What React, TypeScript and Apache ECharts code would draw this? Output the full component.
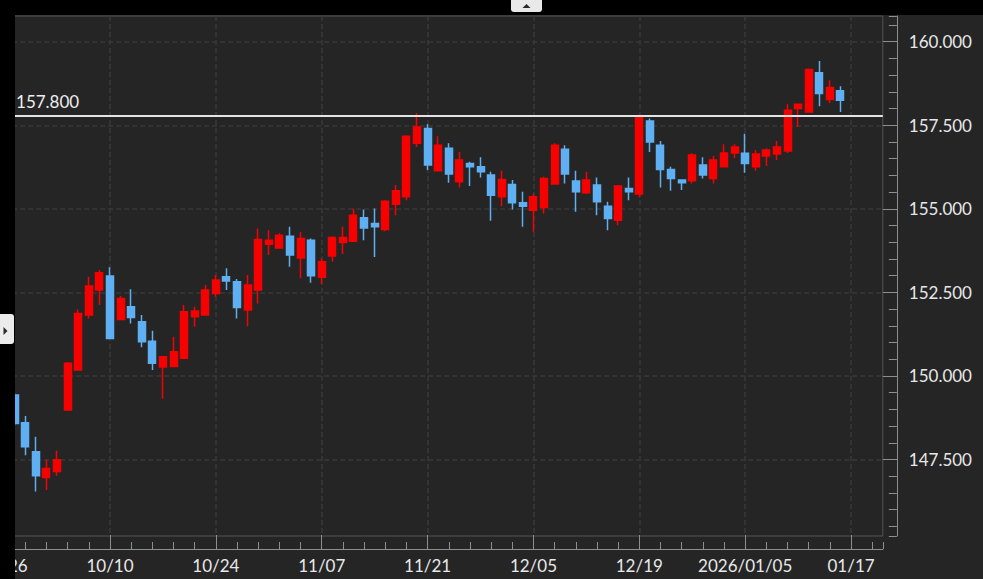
import React, { useEffect, useRef } from "react";
import * as echarts from "echarts";

// x-axis tick labels, one every `labelStep` trading days starting at index 0
const tickLabels = ["09/26", "10/10", "10/24", "11/07", "11/21", "12/05", "12/19", "2026/01/05", "01/17"];
const labelStep = 10;
// first candle's trading-day index (index 0 = 09/26)
const firstIndex = 1;

const opens = [
  149.43, 148.60, 147.73, 146.96, 147.14, 148.98, 150.18, 151.82, 152.57, 152.99,
  151.69, 152.07, 151.62, 151.04, 150.27, 150.28, 150.53, 151.77, 151.82, 152.47,
  152.97, 152.82, 151.97, 152.57, 153.94, 153.83, 154.18, 153.53, 154.06, 152.95,
  153.59, 153.99, 154.03, 154.73, 154.56, 154.38, 155.14, 155.36, 156.96, 157.40,
  156.14, 156.81, 155.81, 156.36, 156.26, 156.01, 155.36, 155.73, 155.18, 154.96,
  155.04, 155.74, 156.78, 155.83, 155.48, 155.71, 155.08, 154.66, 155.61, 155.44,
  157.63, 156.90, 156.18, 155.86, 155.84, 156.31, 155.91, 156.26, 156.67, 156.66,
  156.26, 156.58, 156.64, 156.73, 158.00, 157.90, 159.07, 158.27, 158.53,
];
const closes = [
  148.58, 147.88, 147.01, 147.23, 147.49, 150.38, 151.87, 152.69, 153.09, 151.12,
  152.32, 151.75, 151.02, 150.38, 150.57, 150.72, 151.92, 151.94, 152.57, 152.87,
  152.84, 152.05, 152.72, 154.08, 154.06, 154.21, 153.62, 154.11, 153.00, 153.42,
  154.14, 154.14, 154.81, 154.43, 154.46, 155.23, 155.54, 157.17, 157.45, 156.31,
  156.90, 156.04, 156.46, 156.26, 156.11, 155.41, 155.88, 155.18, 155.08, 155.36,
  155.91, 156.90, 156.04, 155.51, 155.86, 155.21, 154.71, 155.68, 155.51, 157.78,
  157.00, 156.18, 155.91, 155.78, 156.61, 156.01, 156.46, 156.67, 156.85, 156.36,
  156.64, 156.76, 156.85, 157.95, 158.13, 159.17, 158.45, 158.63, 158.25,
];
const lows = [
  148.52, 147.63, 146.54, 146.59, 147.01, 148.95, 150.18, 151.72, 152.12, 151.10,
  151.67, 151.57, 150.86, 150.18, 149.32, 150.28, 150.53, 151.47, 151.82, 152.37,
  152.57, 151.72, 151.49, 152.17, 153.62, 153.82, 153.27, 152.92, 152.79, 152.75,
  153.42, 153.65, 154.03, 154.06, 153.56, 154.33, 154.81, 155.26, 156.85, 156.16,
  156.13, 155.78, 155.64, 155.68, 155.94, 154.64, 155.08, 154.98, 154.46, 154.31,
  154.86, 155.74, 155.76, 154.91, 155.44, 154.81, 154.36, 154.51, 155.26, 155.35,
  156.70, 155.64, 155.54, 155.56, 155.76, 155.91, 155.76, 156.24, 156.51, 156.08,
  156.14, 156.28, 156.46, 156.67, 157.45, 157.89, 158.07, 158.17, 157.90,
];
const highs = [
  149.47, 148.80, 148.18, 147.49, 147.76, 150.42, 151.99, 152.97, 153.17, 153.25,
  152.39, 152.59, 151.82, 151.35, 150.59, 151.17, 152.12, 152.07, 152.72, 153.02,
  153.22, 152.90, 153.02, 154.41, 154.36, 154.27, 154.46, 154.31, 154.11, 153.52,
  154.18, 154.46, 155.01, 154.98, 155.01, 155.26, 155.71, 157.20, 157.87, 157.53,
  157.17, 156.96, 156.70, 156.41, 156.54, 156.11, 156.14, 155.86, 155.51, 155.46,
  155.96, 156.96, 156.90, 156.14, 156.11, 155.94, 155.21, 155.71, 155.94, 157.82,
  157.70, 157.03, 156.26, 155.88, 156.66, 156.54, 156.58, 156.93, 156.93, 157.25,
  156.76, 156.81, 157.03, 158.13, 158.15, 159.20, 159.42, 158.85, 158.67,
];

const refLevel = 157.8;

const X_MIN = 0;
const X_MAX = 83;
const Y_MIN = 145.21;
const Y_MAX = 160.77;

const BG = "#252525";
const UP = "#f70000";
const DOWN = "#5fb0f3";
const AXIS = "#8e8e8e";
const GRIDLINE = "#383838";
const TEXT = "#e8e8e8";
const FONT = "Lato, 'Noto Sans', sans-serif";

export default function App() {
  const ref = useRef<HTMLDivElement>(null);

  useEffect(() => {
    document.body.style.margin = "0";
    document.body.style.background = BG;
    const chart = echarts.init(ref.current!, null, { renderer: "svg" });
    const data = opens.map((o, i) => [firstIndex + i, o, closes[i], lows[i], highs[i]]);

    chart.setOption({
      animation: false,
      backgroundColor: BG,
      grid: {
        left: 4.14,
        right: 100.2,
        top: 16,
        bottom: 43,
        containLabel: false,
        outerBoundsMode: "none",
        show: true,
        backgroundColor: BG,
        borderColor: "#555555",
        borderWidth: 1,
      },
      xAxis: [
        {
          type: "value",
          min: X_MIN,
          max: X_MAX,
          interval: labelStep,
          position: "bottom",
          offset: 13,
          axisLine: { show: true, onZero: false, lineStyle: { color: AXIS, width: 1 } },
          axisTick: { show: true, inside: true, length: 14, lineStyle: { color: AXIS } },
          axisLabel: {
            show: true,
            margin: 8,
            color: TEXT,
            fontFamily: FONT,
            fontSize: 17,
            showMaxLabel: false,
            formatter: (v: number) => {
              const k = Math.round(v / labelStep);
              return Math.abs(v - k * labelStep) < 1e-6 ? tickLabels[k] ?? "" : "";
            },
          },
          splitLine: {
            show: true,
            showMaxLine: false,
            lineStyle: { color: GRIDLINE, type: [5, 3], width: 1.5 },
          },
        },
        {
          type: "value",
          min: X_MIN,
          max: X_MAX,
          interval: 2,
          position: "bottom",
          offset: 13,
          axisLine: { show: false, onZero: false },
          axisTick: { show: true, inside: true, length: 7, lineStyle: { color: AXIS } },
          axisLabel: { show: false },
          splitLine: { show: false },
        },
      ],
      yAxis: [
        {
          type: "value",
          min: Y_MIN,
          max: Y_MAX,
          minInterval: 2.5,
          maxInterval: 2.5,
          position: "right",
          offset: 14,
          axisLine: { show: true, onZero: false, lineStyle: { color: AXIS, width: 1 } },
          axisTick: { show: true, inside: true, length: 14, lineStyle: { color: AXIS } },
          axisLabel: {
            show: true,
            margin: 12,
            color: TEXT,
            fontFamily: FONT,
            fontSize: 17,
            showMinLabel: false,
            showMaxLabel: false,
            formatter: (v: number) => v.toFixed(3),
          },
          splitLine: {
            show: true,
            showMinLine: false,
            showMaxLine: false,
            lineStyle: { color: GRIDLINE, type: [5, 3], width: 1.5 },
          },
        },
        {
          type: "value",
          min: Y_MIN,
          max: Y_MAX,
          minInterval: 0.5,
          maxInterval: 0.5,
          position: "right",
          offset: 14,
          axisLine: { show: false, onZero: false },
          axisTick: { show: true, inside: true, length: 8, lineStyle: { color: AXIS } },
          axisLabel: { show: false },
          splitLine: { show: false },
        },
      ],
      series: [
        {
          type: "candlestick",
          xAxisIndex: 0,
          yAxisIndex: 0,
          data,
          encode: { x: 0, y: [1, 2, 3, 4] },
          barWidth: 7.5,
          itemStyle: {
            color: UP,
            color0: DOWN,
            borderColor: UP,
            borderColor0: DOWN,
            borderWidth: 1.5,
          },
          emphasis: { disabled: true },
          markLine: {
            silent: true,
            symbol: ["none", "none"],
            lineStyle: { color: "#e4e4e4", width: 2, type: "solid" },
            label: {
              show: true,
              position: "insideStartTop",
              formatter: refLevel.toFixed(3),
              color: "#eeeeee",
              fontFamily: FONT,
              fontSize: 17,
              distance: 5,
            },
            emphasis: { disabled: true },
            data: [[{ coord: [0.65, refLevel] }, { coord: [X_MAX, refLevel] }]],
          },
        },
      ],
      graphic: [
        { type: "rect", z: 100, silent: true, shape: { x: 0, y: 0, width: 983, height: 15 }, style: { fill: "#000000" } },
        { type: "rect", z: 100, silent: true, shape: { x: 0, y: 0, width: 15, height: 579 }, style: { fill: "#000000" } },
        { type: "rect", z: 101, silent: true, shape: { x: 511, y: 0, width: 31, height: 12, r: [0, 0, 3, 3] }, style: { fill: "#e9e9e9" } },
        { type: "polygon", z: 102, silent: true, shape: { points: [[522.5, 8], [530.5, 8], [526.5, 4]] }, style: { fill: "#2a2a2a" } },
        { type: "rect", z: 101, silent: true, shape: { x: 0, y: 314, width: 14, height: 30, r: [0, 3, 3, 0] }, style: { fill: "#ececec" } },
        { type: "polygon", z: 102, silent: true, shape: { points: [[3.5, 327], [3.5, 335], [7.5, 331]] }, style: { fill: "#2a2a2a" } },
      ],
    });

    return () => chart.dispose();
  }, []);

  return (
    <div
      ref={ref}
      style={{ position: "fixed", left: 0, top: 0, width: 983, height: 579, background: BG }}
    />
  );
}
